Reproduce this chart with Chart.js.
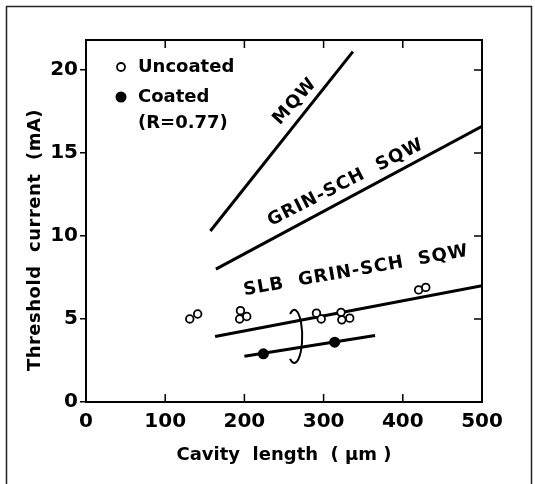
<!DOCTYPE html>
<html>
<head>
<meta charset="utf-8">
<script src="https://cdn.jsdelivr.net/npm/chart.js@4.4.1/dist/chart.umd.min.js"></script>
<style>
  body { margin: 0; background: #fff; }
  canvas { display: block; }
</style>
</head>
<body>
<canvas id="chart" width="535" height="484"></canvas>
<script>
// Tick labels
const xTicks = [0, 100, 200, 300, 400, 500];
const yTicks = [0, 5, 10, 15, 20];

// Fitted lines (cavity length in um, threshold current in mA)
const mqwX = [157, 337];
const mqwY = [10.3, 21.1];
const grinX = [164, 500];
const grinY = [8.0, 16.6];
const slbX = [163, 500];
const slbY = [3.95, 7.0];
const coatedFitX = [200, 365];
const coatedFitY = [2.75, 4.0];

// Measured points
const uncoatedX = [131, 141, 195, 194, 203, 291, 297, 322, 323, 333, 420, 429];
const uncoatedY = [5.0, 5.3, 5.5, 5.0, 5.15, 5.35, 5.0, 5.4, 4.95, 5.05, 6.75, 6.9];
const coatedX = [224, 314];
const coatedY = [2.9, 3.6];

function pts(xs, ys) {
  return xs.map((x, i) => ({ x: x, y: ys[i] }));
}

const FONT = '"DejaVu Sans", sans-serif';

// line labels, placed in data units
const lineLabels = [
  { text: 'MQW', x: 264, y: 18.1, angle: -48 },
  { text: 'GRIN-SCH  SQW', x: 328, y: 13.2, angle: -27 },
  { text: 'SLB  GRIN-SCH  SQW', x: 341, y: 7.9, angle: -10 }
];
// ring that groups the SLB uncoated/coated data
const ring = { x: 263, y: 3.95, rx: 10, ry: 1.6 };

const extras = {
  id: 'extras',
  beforeDraw(chart) {
    const ctx = chart.ctx;
    ctx.save();
    ctx.fillStyle = '#fff';
    ctx.fillRect(0, 0, chart.width, chart.height);
    // outer frame
    ctx.strokeStyle = '#222';
    ctx.lineWidth = 1.5;
    ctx.beginPath();
    ctx.moveTo(6.5, 484);
    ctx.lineTo(6.5, 6.5);
    ctx.lineTo(531.5, 6.5);
    ctx.lineTo(531.5, 484);
    ctx.stroke();
    ctx.restore();
  },
  afterDraw(chart) {
    const ctx = chart.ctx;
    const a = chart.chartArea;
    const xs = chart.scales.x, ys = chart.scales.y;
    ctx.save();
    ctx.strokeStyle = '#000';
    ctx.fillStyle = '#000';

    // top and right border
    ctx.lineWidth = 2;
    ctx.beginPath();
    ctx.moveTo(a.left, a.top);
    ctx.lineTo(a.right, a.top);
    ctx.lineTo(a.right, a.bottom);
    ctx.stroke();

    // inward ticks
    ctx.lineWidth = 1.5;
    ctx.beginPath();
    xTicks.slice(1, -1).forEach(v => {
      const px = xs.getPixelForValue(v);
      ctx.moveTo(px, a.bottom); ctx.lineTo(px, a.bottom - 8);
      ctx.moveTo(px, a.top); ctx.lineTo(px, a.top + 8);
    });
    yTicks.slice(1).forEach(v => {
      const py = ys.getPixelForValue(v);
      ctx.moveTo(a.right, py); ctx.lineTo(a.right - 8, py);
    });
    ctx.stroke();

    // ring
    const cx = xs.getPixelForValue(ring.x);
    const cy = ys.getPixelForValue(ring.y);
    const rx = xs.getPixelForValue(ring.x + ring.rx) - cx;
    const ry = cy - ys.getPixelForValue(ring.y + ring.ry);
    ctx.lineWidth = 2;
    ctx.beginPath();
    ctx.ellipse(cx, cy, rx, ry, 0, -0.68 * Math.PI, 0.68 * Math.PI);
    ctx.stroke();

    // line labels
    ctx.font = 'bold 18px ' + FONT;
    ctx.textAlign = 'center';
    ctx.textBaseline = 'middle';
    ctx.letterSpacing = '1px';
    lineLabels.forEach(l => {
      ctx.save();
      ctx.translate(xs.getPixelForValue(l.x), ys.getPixelForValue(l.y));
      ctx.rotate(l.angle * Math.PI / 180);
      ctx.fillText(l.text, 0, 0);
      ctx.restore();
    });
    ctx.letterSpacing = '0px';

    // legend
    const lx = a.left + 35, tx = a.left + 52;
    ctx.textAlign = 'left';
    ctx.lineWidth = 1.8;
    ctx.beginPath();
    ctx.arc(lx, 67, 4, 0, 2 * Math.PI);
    ctx.fillStyle = '#fff';
    ctx.fill();
    ctx.stroke();
    ctx.fillStyle = '#000';
    ctx.beginPath();
    ctx.arc(lx, 97, 5.5, 0, 2 * Math.PI);
    ctx.fill();
    ctx.fillText('Uncoated', tx, 67);
    ctx.fillText('Coated', tx, 97);
    ctx.fillText('(R=0.77)', tx, 123);

    // y axis title
    ctx.save();
    ctx.translate(35, 240);
    ctx.rotate(-Math.PI / 2);
    ctx.textAlign = 'center';
    ctx.letterSpacing = '0.5px';
    ctx.fillText('Threshold  current  (mA)', 0, 0);
    ctx.restore();

    ctx.restore();
  }
};

function lineSet(xs, ys) {
  return {
    data: pts(xs, ys),
    showLine: true,
    borderColor: '#000',
    borderWidth: 3,
    pointRadius: 0,
    order: 2
  };
}

new Chart(document.getElementById('chart'), {
  type: 'scatter',
  data: {
    datasets: [
      {
        label: 'Uncoated',
        data: pts(uncoatedX, uncoatedY),
        pointStyle: 'circle',
        pointRadius: 3.8,
        borderWidth: 1.8,
        borderColor: '#000',
        backgroundColor: '#fff',
        order: 0
      },
      {
        label: 'Coated (R=0.77)',
        data: pts(coatedX, coatedY),
        pointStyle: 'circle',
        pointRadius: 5.5,
        borderWidth: 0,
        backgroundColor: '#000',
        order: 0
      },
      lineSet(mqwX, mqwY),
      lineSet(grinX, grinY),
      lineSet(slbX, slbY),
      lineSet(coatedFitX, coatedFitY)
    ]
  },
  options: {
    responsive: false,
    animation: false,
    devicePixelRatio: 1,
    layout: { padding: { left: 0, right: 53, top: 40, bottom: 0 } },
    plugins: {
      legend: { display: false },
      tooltip: { enabled: false }
    },
    scales: {
      x: {
        type: 'linear',
        min: 0,
        max: 500,
        afterBuildTicks: s => { s.ticks = xTicks.map(v => ({ value: v })); },
        afterFit: s => { s.height = 82; },
        border: { display: true, color: '#000', width: 2 },
        grid: { drawOnChartArea: false, drawTicks: false },
        ticks: {
          color: '#000',
          padding: 8,
          font: { family: FONT, size: 20, weight: 'bold' }
        },
        title: {
          display: true,
          text: 'Cavity  length  ( µm )',
          color: '#000',
          padding: { top: 0, bottom: 18 },
          font: { family: FONT, size: 18, weight: 'bold' }
        }
      },
      y: {
        type: 'linear',
        min: 0,
        max: 21.8,
        afterBuildTicks: s => { s.ticks = yTicks.map(v => ({ value: v })); },
        afterFit: s => { s.width = 86; },
        border: { display: true, color: '#000', width: 2 },
        grid: { drawOnChartArea: false, drawTicks: true, tickLength: 6, lineWidth: 1.5, color: '#000' },
        ticks: {
          color: '#000',
          padding: 2,
          font: { family: FONT, size: 20, weight: 'bold' }
        }
      }
    }
  },
  plugins: [extras]
});
</script>
</body>
</html>
